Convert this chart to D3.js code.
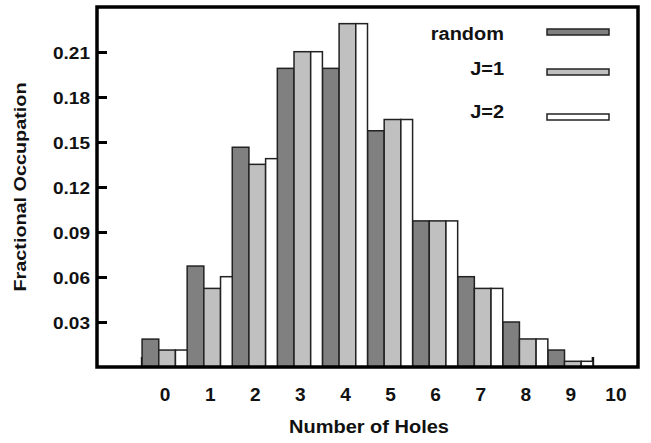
<!DOCTYPE html>
<html lang="en">
	<head>
		<meta charset="UTF-8" />
		<script src="https://d3js.org/d3.v7.min.js"></script>
		<style>
			body { margin: 0; background: #fff; }
			text { font-family: "Liberation Sans", Arial, sans-serif; font-weight: bold; fill: #111; }
		</style>
	</head>
	<body>
		<script>
			// data
			var holes = [0, 1, 2, 3, 4, 5, 6, 7, 8, 9, 10];
			var randomVals = [0.0186, 0.0673, 0.1465, 0.1991, 0.1991, 0.1575, 0.0974, 0.0602, 0.0300, 0.0113, 0];
			var j1Vals     = [0.0113, 0.0524, 0.1351, 0.2102, 0.2289, 0.1650, 0.0974, 0.0524, 0.0187, 0.0038, 0];
			var j2Vals     = [0.0113, 0.0602, 0.1389, 0.2102, 0.2289, 0.1650, 0.0974, 0.0524, 0.0187, 0.0038, 0];
			var seriesNames = ["random", "J=1", "J=2"];
			var yTicks = [0.03, 0.06, 0.09, 0.12, 0.15, 0.18, 0.21];

			var width = 651, height = 443;
			// note: "top" is taken by window.top, so use prefixed names
			var plotLeft = 97, plotRight = 638, plotTop = 7, plotBottom = 367;

			var svg = d3.select("body").append("svg")
				.attr("width", width)
				.attr("height", height);

			var x = d3.scaleLinear().domain([-1.5, 10.5]).range([plotLeft, plotRight]);
			var y = d3.scaleLinear().domain([0, 0.24]).range([plotBottom, plotTop]);

			// stretch text a bit, the original font is wider than Arial
			function widen(sel, k) {
				sel.each(function() {
					var w = this.getComputedTextLength();
					d3.select(this).attr("textLength", w * k).attr("lengthAdjust", "spacingAndGlyphs");
				});
			}

			// little inward ticks between groups
			var halfTicks = d3.range(-0.5, 10, 1);
			svg.selectAll("line.half").data(halfTicks).enter().append("line")
				.attr("class", "half")
				.attr("x1", function(d) { return x(d); })
				.attr("x2", function(d) { return x(d); })
				.attr("y1", plotBottom)
				.attr("y2", plotBottom - 10)
				.attr("stroke", "#111")
				.attr("stroke-width", 2.5);

			// bars: offset and width in units of one group
			var series = [
				{name: seriesNames[0], vals: randomVals, fill: "#808080", off: 0,    w: 0.37},
				{name: seriesNames[1], vals: j1Vals,     fill: "#c0c0c0", off: 0.37, w: 0.37},
				{name: seriesNames[2], vals: j2Vals,     fill: "#ffffff", off: 0.74, w: 0.26}
			];

			series.forEach(function(s) {
				svg.append("g").selectAll("rect")
					.data(holes.filter(function(h) { return s.vals[h] > 0; }))
					.enter().append("rect")
					.attr("x", function(h) { return x(h - 0.5 + s.off); })
					.attr("y", function(h) { return y(s.vals[h]); })
					.attr("width", function(h) { return x(h - 0.5 + s.off + s.w) - x(h - 0.5 + s.off); })
					.attr("height", function(h) { return y(0) - y(s.vals[h]); })
					.attr("fill", s.fill)
					.attr("stroke", "#222")
					.attr("stroke-width", 1.5);
			});

			// frame
			svg.append("rect")
				.attr("x", plotLeft).attr("y", plotTop)
				.attr("width", plotRight - plotLeft).attr("height", plotBottom - plotTop)
				.attr("fill", "none")
				.attr("stroke", "#000")
				.attr("stroke-width", 3.5);

			// y axis
			var yAxis = d3.axisLeft(y).tickValues(yTicks)
				.tickSizeInner(-10).tickSizeOuter(0).tickPadding(7)
				.tickFormat(d3.format(".2f"));
			var gy = svg.append("g").attr("transform", "translate(" + plotLeft + ",0)").call(yAxis);
			gy.select(".domain").remove();
			gy.selectAll(".tick line").attr("stroke", "#000").attr("stroke-width", 3);
			gy.selectAll(".tick text")
				.attr("font-size", 17)
				.attr("font-family", null)
				.attr("fill", "#111")
				.attr("dy", "0.36em");
			widen(gy.selectAll(".tick text"), 1.12);

			// x axis labels only
			var xAxis = d3.axisBottom(x).tickValues(holes).tickSize(0).tickPadding(0)
				.tickFormat(d3.format("d"));
			var gx = svg.append("g").attr("transform", "translate(0," + 401 + ")").call(xAxis);
			gx.select(".domain").remove();
			gx.selectAll(".tick text")
				.attr("font-size", 18)
				.attr("font-family", null)
				.attr("fill", "#111")
				.attr("dy", 0);
			widen(gx.selectAll(".tick text"), 1.06);

			// titles
			var xt = svg.append("text")
				.attr("x", 369).attr("y", 433)
				.attr("text-anchor", "middle")
				.attr("font-size", 17.5)
				.text("Number of Holes");
			xt.attr("textLength", 160).attr("lengthAdjust", "spacingAndGlyphs");

			var yt = svg.append("text")
				.attr("transform", "translate(26,187) rotate(-90)")
				.attr("text-anchor", "middle")
				.attr("font-size", 16.5)
				.text("Fractional Occupation");
			yt.attr("textLength", 209).attr("lengthAdjust", "spacingAndGlyphs");

			// legend
			var legTextY = [40, 75, 118];
			var legBoxY = [29, 69, 114];
			var leg = svg.append("g");
			series.forEach(function(s, i) {
				var t = leg.append("text")
					.attr("x", 504).attr("y", legTextY[i])
					.attr("text-anchor", "end")
					.attr("font-size", 17.5)
					.text(s.name);
				widen(t, 1.14);
				leg.append("rect")
					.attr("x", 547).attr("y", legBoxY[i])
					.attr("width", 62).attr("height", 6)
					.attr("fill", s.fill)
					.attr("stroke", "#222")
					.attr("stroke-width", 1.5);
			});
		</script>
	</body>
</html>
